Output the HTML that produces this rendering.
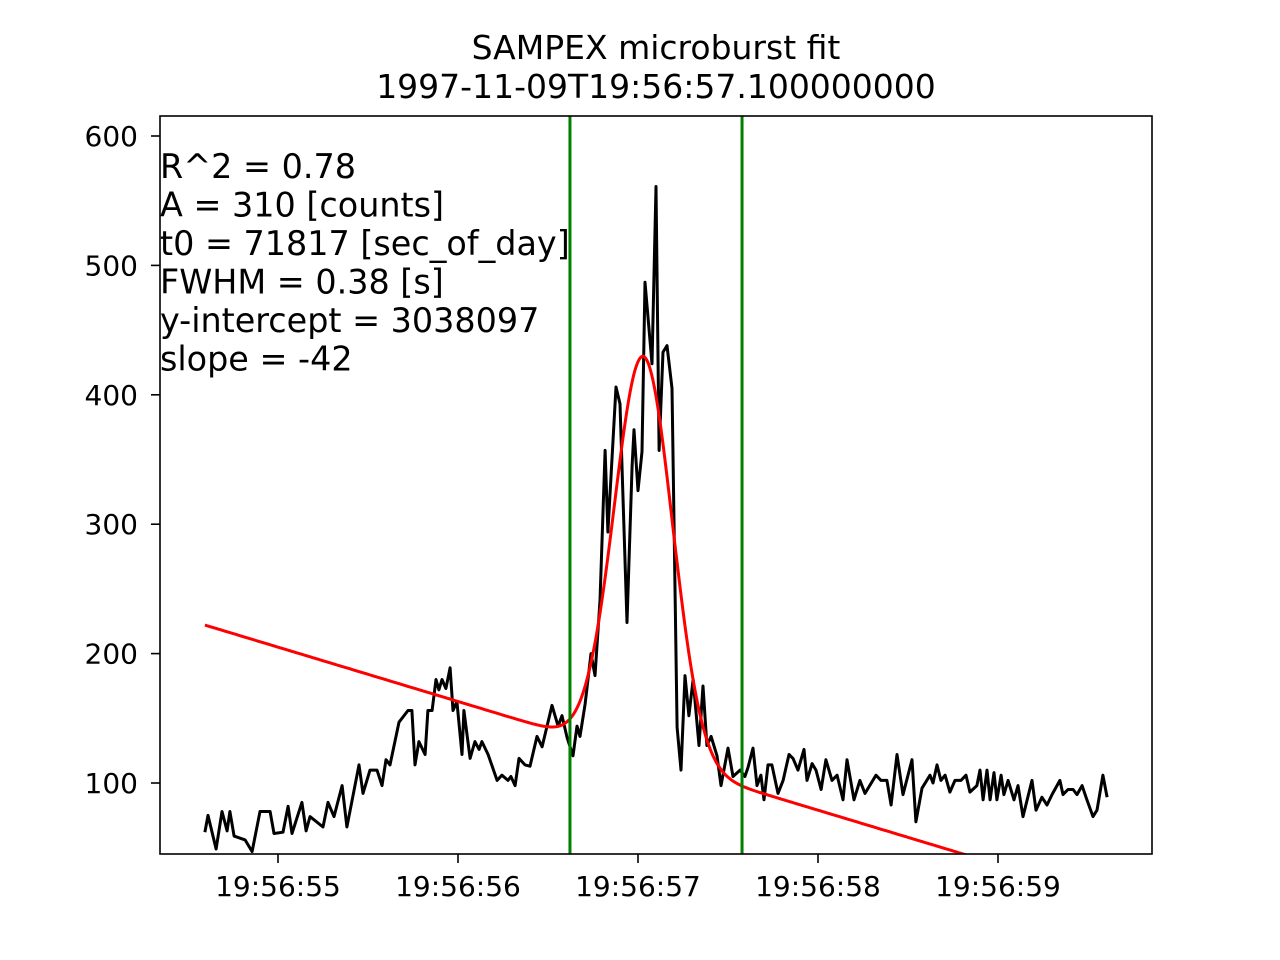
<!DOCTYPE html>
<html><head><meta charset="utf-8"><style>
html,body{margin:0;padding:0;background:#fff;}
svg{display:block;font-family:"DejaVu Sans","Liberation Sans",sans-serif;}
</style></head><body>
<svg id="chart" width="1280" height="960" viewBox="0 0 1280 960" xmlns="http://www.w3.org/2000/svg">
<rect width="1280" height="960" fill="#fff"/>
<text x="656" y="59" font-size="33" text-anchor="middle">SAMPEX microburst fit</text>
<text x="656" y="98" font-size="33" text-anchor="middle">1997-11-09T19:56:57.100000000</text>
<defs><clipPath id="clip"><rect x="160" y="116" width="992" height="738"/></clipPath></defs>
<g id="marks" clip-path="url(#clip)"></g>
<g id="axes"></g>
<rect x="160" y="116" width="992" height="738" fill="none" stroke="#000" stroke-width="1.6"/>
<g font-size="33.4">
<text x="160" y="178">R^2 = 0.78</text>
<text x="160" y="216.5">A = 310 [counts]</text>
<text x="160" y="255">t0 = 71817 [sec_of_day]</text>
<text x="160" y="293.5">FWHM = 0.38 [s]</text>
<text x="160" y="332">y-intercept = 3038097</text>
<text x="160" y="370.5">slope = -42</text>
</g>
</svg>
<script>
// time in seconds after 19:56:54
const times = [0.594,0.611,0.656,0.689,0.717,0.733,0.756,0.817,0.856,0.900,0.956,0.978,1.028,1.056,1.078,1.133,1.156,1.178,1.250,1.278,1.311,1.356,1.383,1.450,1.472,1.511,1.550,1.578,1.600,1.622,1.672,1.722,1.744,1.761,1.783,1.817,1.833,1.856,1.878,1.894,1.911,1.933,1.956,1.972,1.994,2.022,2.033,2.067,2.094,2.117,2.133,2.167,2.217,2.244,2.278,2.294,2.317,2.339,2.372,2.400,2.439,2.467,2.522,2.556,2.578,2.606,2.639,2.661,2.678,2.706,2.739,2.761,2.789,2.817,2.833,2.878,2.900,2.939,2.967,2.978,3.000,3.022,3.039,3.078,3.100,3.117,3.139,3.161,3.189,3.217,3.239,3.261,3.283,3.306,3.339,3.361,3.383,3.406,3.439,3.461,3.500,3.528,3.567,3.594,3.611,3.639,3.661,3.683,3.700,3.722,3.744,3.778,3.806,3.839,3.861,3.889,3.922,3.939,3.967,3.989,4.017,4.044,4.078,4.106,4.139,4.161,4.200,4.233,4.261,4.322,4.350,4.383,4.406,4.439,4.472,4.522,4.544,4.578,4.622,4.639,4.661,4.683,4.706,4.733,4.761,4.794,4.822,4.844,4.883,4.900,4.917,4.939,4.956,4.978,4.994,5.017,5.033,5.056,5.089,5.111,5.139,5.189,5.211,5.244,5.272,5.300,5.344,5.361,5.389,5.417,5.439,5.467,5.494,5.528,5.550,5.583,5.606];
const counts = [62,75,49,78,63,78,59,56,47,78,78,61,62,82,61,85,63,74,66,85,74,98,66,114,92,110,110,98,118,114,147,156,156,114,132,122,156,156,180,172,180,173,189,156,163,122,156,119,132,126,132,122,102,106,102,105,98,119,114,113,136,128,160,144,152,135,121,144,136,161,200,183,241,357,294,406,393,224,345,373,326,356,487,424,561,357,433,438,405,143,110,183,152,180,129,175,129,136,121,98,127,105,110,105,112,127,98,106,87,114,114,92,102,122,119,110,126,102,115,110,95,118,102,106,87,118,87,102,92,106,102,102,83,122,91,118,70,96,106,100,114,102,106,93,102,102,106,93,98,110,87,110,87,108,87,106,91,102,87,98,74,102,79,89,83,91,102,91,95,95,91,98,87,74,79,106,89];
const fitA = 310, fitT0 = 3.03, fitFWHM = 0.38, fitIntercept = 247, fitSlope = -42;
const fitRange = [0.594, 5.606];
const windowTimes = [2.622, 3.578];
const xTicks = [1,2,3,4,5];
const xTickLabels = ["19:56:55","19:56:56","19:56:57","19:56:58","19:56:59"];
const yTicks = [100,200,300,400,500,600];

const X0=160,X1=1152,Y0=854,Y1=116;
const tMin=(160-98)/180, tMax=(1152-98)/180;
const yMin=100-(854-783)/1.294, yMax=600+(136-116)/1.294;
const sx=t=>X0+(t-tMin)/(tMax-tMin)*(X1-X0);
const sy=v=>Y0-(v-yMin)/(yMax-yMin)*(Y0-Y1);
const NS="http://www.w3.org/2000/svg";
const marks=document.getElementById('marks'), axes=document.getElementById('axes');
function mk(tag,attrs,parent){const e=document.createElementNS(NS,tag);for(const k in attrs)e.setAttribute(k,attrs[k]);parent.appendChild(e);return e;}

let d=times.map((t,i)=>(i?'L':'M')+sx(t).toFixed(1)+' '+sy(counts[i]).toFixed(1)).join(' ');
const dl=mk('path',{d:d,fill:'none',stroke:'#000','stroke-width':3,'stroke-linejoin':'round'},marks);



const sig=fitFWHM/2.3548;
let fp=[];
for(let i=0;i<=600;i++){const t=fitRange[0]+(fitRange[1]-fitRange[0])*i/600;
 const v=fitA*Math.exp(-Math.pow(t-fitT0,2)/(2*sig*sig))+fitIntercept+fitSlope*t;
 fp.push((i?'L':'M')+sx(t).toFixed(1)+' '+sy(v).toFixed(1));}
const fl=mk('path',{d:fp.join(' '),fill:'none',stroke:'#f00','stroke-width':3},marks);



windowTimes.forEach((t,i)=>{
 const g=mk('line',{x1:sx(t),x2:sx(t),y1:Y1,y2:Y0,stroke:'#008000','stroke-width':3},marks);
 
 
});

xTicks.forEach((t,i)=>{
 const x=sx(t);
 const tk=mk('line',{x1:x,x2:x,y1:Y0,y2:Y0+9,stroke:'#000','stroke-width':1.6},axes);
 
 
 const tx=mk('text',{x:x,y:Y0+42,'font-size':28,'text-anchor':'middle'},axes);
 tx.textContent=xTickLabels[i];
 
 
});
yTicks.forEach(v=>{
 const y=sy(v);
 const tk=mk('line',{x1:X0-9,x2:X0,y1:y,y2:y,stroke:'#000','stroke-width':1.6},axes);
 
 
 const tx=mk('text',{x:X0-22,y:y+10,'font-size':28,'text-anchor':'end'},axes);
 tx.textContent=v;
 
 
});
</script>
</body></html>
